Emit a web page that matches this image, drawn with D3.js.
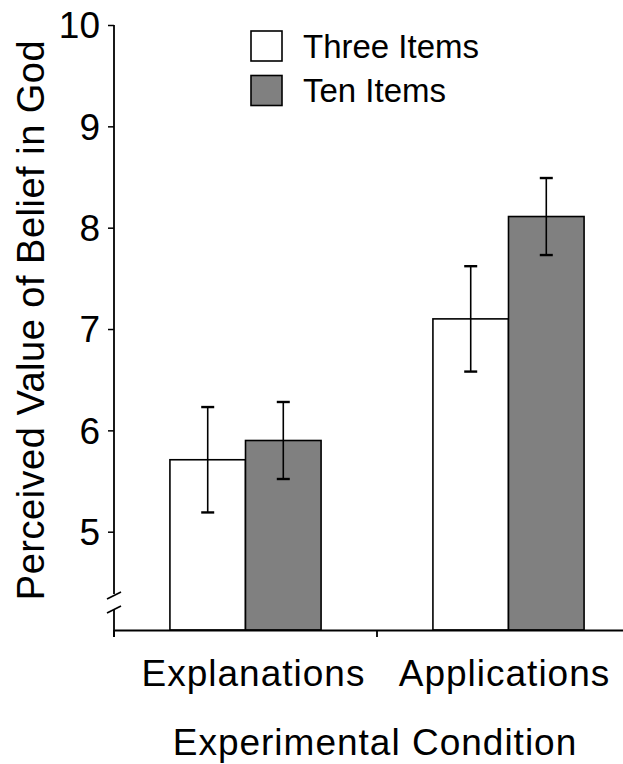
<!DOCTYPE html>
<html>
<head>
<meta charset="utf-8">
<script src="https://cdn.jsdelivr.net/npm/d3@7"></script>
<style>
  body { margin: 0; background: #fff; }
  text { font-family: "Liberation Sans", Arial, sans-serif; fill: #000; }
</style>
</head>
<body>
<svg id="chart" width="623" height="764"></svg>
<script>
var conditions = ["Explanations", "Applications"];
var series = ["Three Items", "Ten Items"];
var colors = ["#ffffff", "#808080"];
var means = [[5.71, 5.90], [7.10, 8.11]];
var errors = [[0.52, 0.38], [0.52, 0.38]];
var yTicks = [5, 6, 7, 8, 9, 10];
var yBase = 4.03;

var svg = d3.select("#chart");
var plotLeft = 114, plotTop = 25, plotBottom = 630, plotRight = 640;

var x = d3.scaleBand().domain(conditions).range([plotLeft, plotRight]).padding(0);
var xInner = d3.scaleBand().domain(series).range([0, x.bandwidth()])
    .paddingInner(0).paddingOuter(0.74);
var y = d3.scaleLinear().domain([yBase, 10]).range([plotBottom, plotTop]);

// bars
var groups = svg.append("g").selectAll("g")
    .data(conditions)
    .enter().append("g")
        .attr("transform", function (d) { return "translate(" + x(d) + ",0)"; });

groups.selectAll("rect")
    .data(function (d, i) { return means[i].map(function (v, j) { return { s: series[j], v: v, j: j }; }); })
    .enter().append("rect")
        .attr("x", function (d) { return xInner(d.s); })
        .attr("y", function (d) { return y(d.v); })
        .attr("width", xInner.bandwidth())
        .attr("height", function (d) { return y(yBase) - y(d.v); })
        .attr("fill", function (d) { return colors[d.j]; })
        .attr("stroke", "#000")
        .attr("stroke-width", 1.6);

// error bars
var eb = groups.selectAll("g.err")
    .data(function (d, i) { return means[i].map(function (v, j) { return { s: series[j], v: v, e: errors[i][j] }; }); })
    .enter().append("g").attr("class", "err")
        .attr("stroke", "#000")
        .attr("stroke-width", 1.6);
var cx = function (d) { return xInner(d.s) + xInner.bandwidth() / 2; };
eb.append("line")
    .attr("x1", cx).attr("x2", cx)
    .attr("y1", function (d) { return y(d.v + d.e); })
    .attr("y2", function (d) { return y(d.v - d.e); });
[1, -1].forEach(function (sgn) {
    eb.append("line")
        .attr("x1", function (d) { return cx(d) - 6.5; })
        .attr("x2", function (d) { return cx(d) + 6.5; })
        .attr("y1", function (d) { return y(d.v + sgn * d.e); })
        .attr("y2", function (d) { return y(d.v + sgn * d.e); })
        .attr("stroke-width", 2.4);
});

// y axis (domain drawn by hand for the break)
var yAxis = svg.append("g")
    .attr("transform", "translate(" + plotLeft + ",0)")
    .call(d3.axisLeft(y).tickValues(yTicks).tickSize(6).tickPadding(8).tickFormat(d3.format("d")));
yAxis.select(".domain").remove();
yAxis.selectAll(".tick line").attr("stroke", "#000").attr("stroke-width", 1.5);
yAxis.selectAll(".tick text").style("font-size", "37px").attr("dy", "0.35em");

var axisLine = svg.append("g").attr("stroke", "#000").attr("stroke-width", 1.8).attr("fill", "none");
axisLine.append("line").attr("x1", plotLeft).attr("x2", plotLeft).attr("y1", y(10)).attr("y2", 594);
axisLine.append("line").attr("x1", plotLeft).attr("x2", plotLeft).attr("y1", 610).attr("y2", plotBottom + 7);
axisLine.append("line").attr("x1", plotLeft - 7).attr("x2", plotLeft + 7).attr("y1", 599).attr("y2", 592);
axisLine.append("line").attr("x1", plotLeft - 7).attr("x2", plotLeft + 7).attr("y1", 613).attr("y2", 606);

// x axis
var xAxis = svg.append("g")
    .attr("transform", "translate(0," + plotBottom + ")")
    .call(d3.axisBottom(x).tickSize(0).tickPadding(30));
xAxis.select(".domain").attr("stroke", "#000").attr("stroke-width", 2.2);
xAxis.selectAll(".tick text")
    .style("font-size", "37px")
    .style("letter-spacing", "1px")
    .attr("dx", function (d, i) { return i === 0 ? 8 : -4; });
xAxis.selectAll("line.sep")
    .data(conditions)
    .enter().append("line").attr("class", "sep")
        .attr("x1", function (d) { return x(d); })
        .attr("x2", function (d) { return x(d); })
        .attr("y1", 0).attr("y2", 7)
        .attr("stroke", "#000").attr("stroke-width", 1.8);

// axis titles
svg.append("text")
    .attr("x", 375).attr("y", 755)
    .attr("text-anchor", "middle")
    .style("font-size", "37px")
    .style("letter-spacing", "1px")
    .text("Experimental Condition");
svg.append("text")
    .attr("transform", "translate(44,320) rotate(-90)")
    .attr("text-anchor", "middle")
    .style("font-size", "38px")
    .style("letter-spacing", "0.5px")
    .text("Perceived Value of Belief in God");

// legend
var legend = svg.append("g").selectAll("g")
    .data(series)
    .enter().append("g")
        .attr("transform", function (d, i) { return "translate(251," + (31 + i * 44.5) + ")"; });
legend.append("rect")
    .attr("width", 31).attr("height", 30)
    .attr("fill", function (d, i) { return colors[i]; })
    .attr("stroke", "#000").attr("stroke-width", 1.6);
legend.append("text")
    .attr("x", 52).attr("y", 15).attr("dy", "0.36em")
    .style("font-size", "33px")
    .text(function (d) { return d; });
</script>
</body>
</html>
